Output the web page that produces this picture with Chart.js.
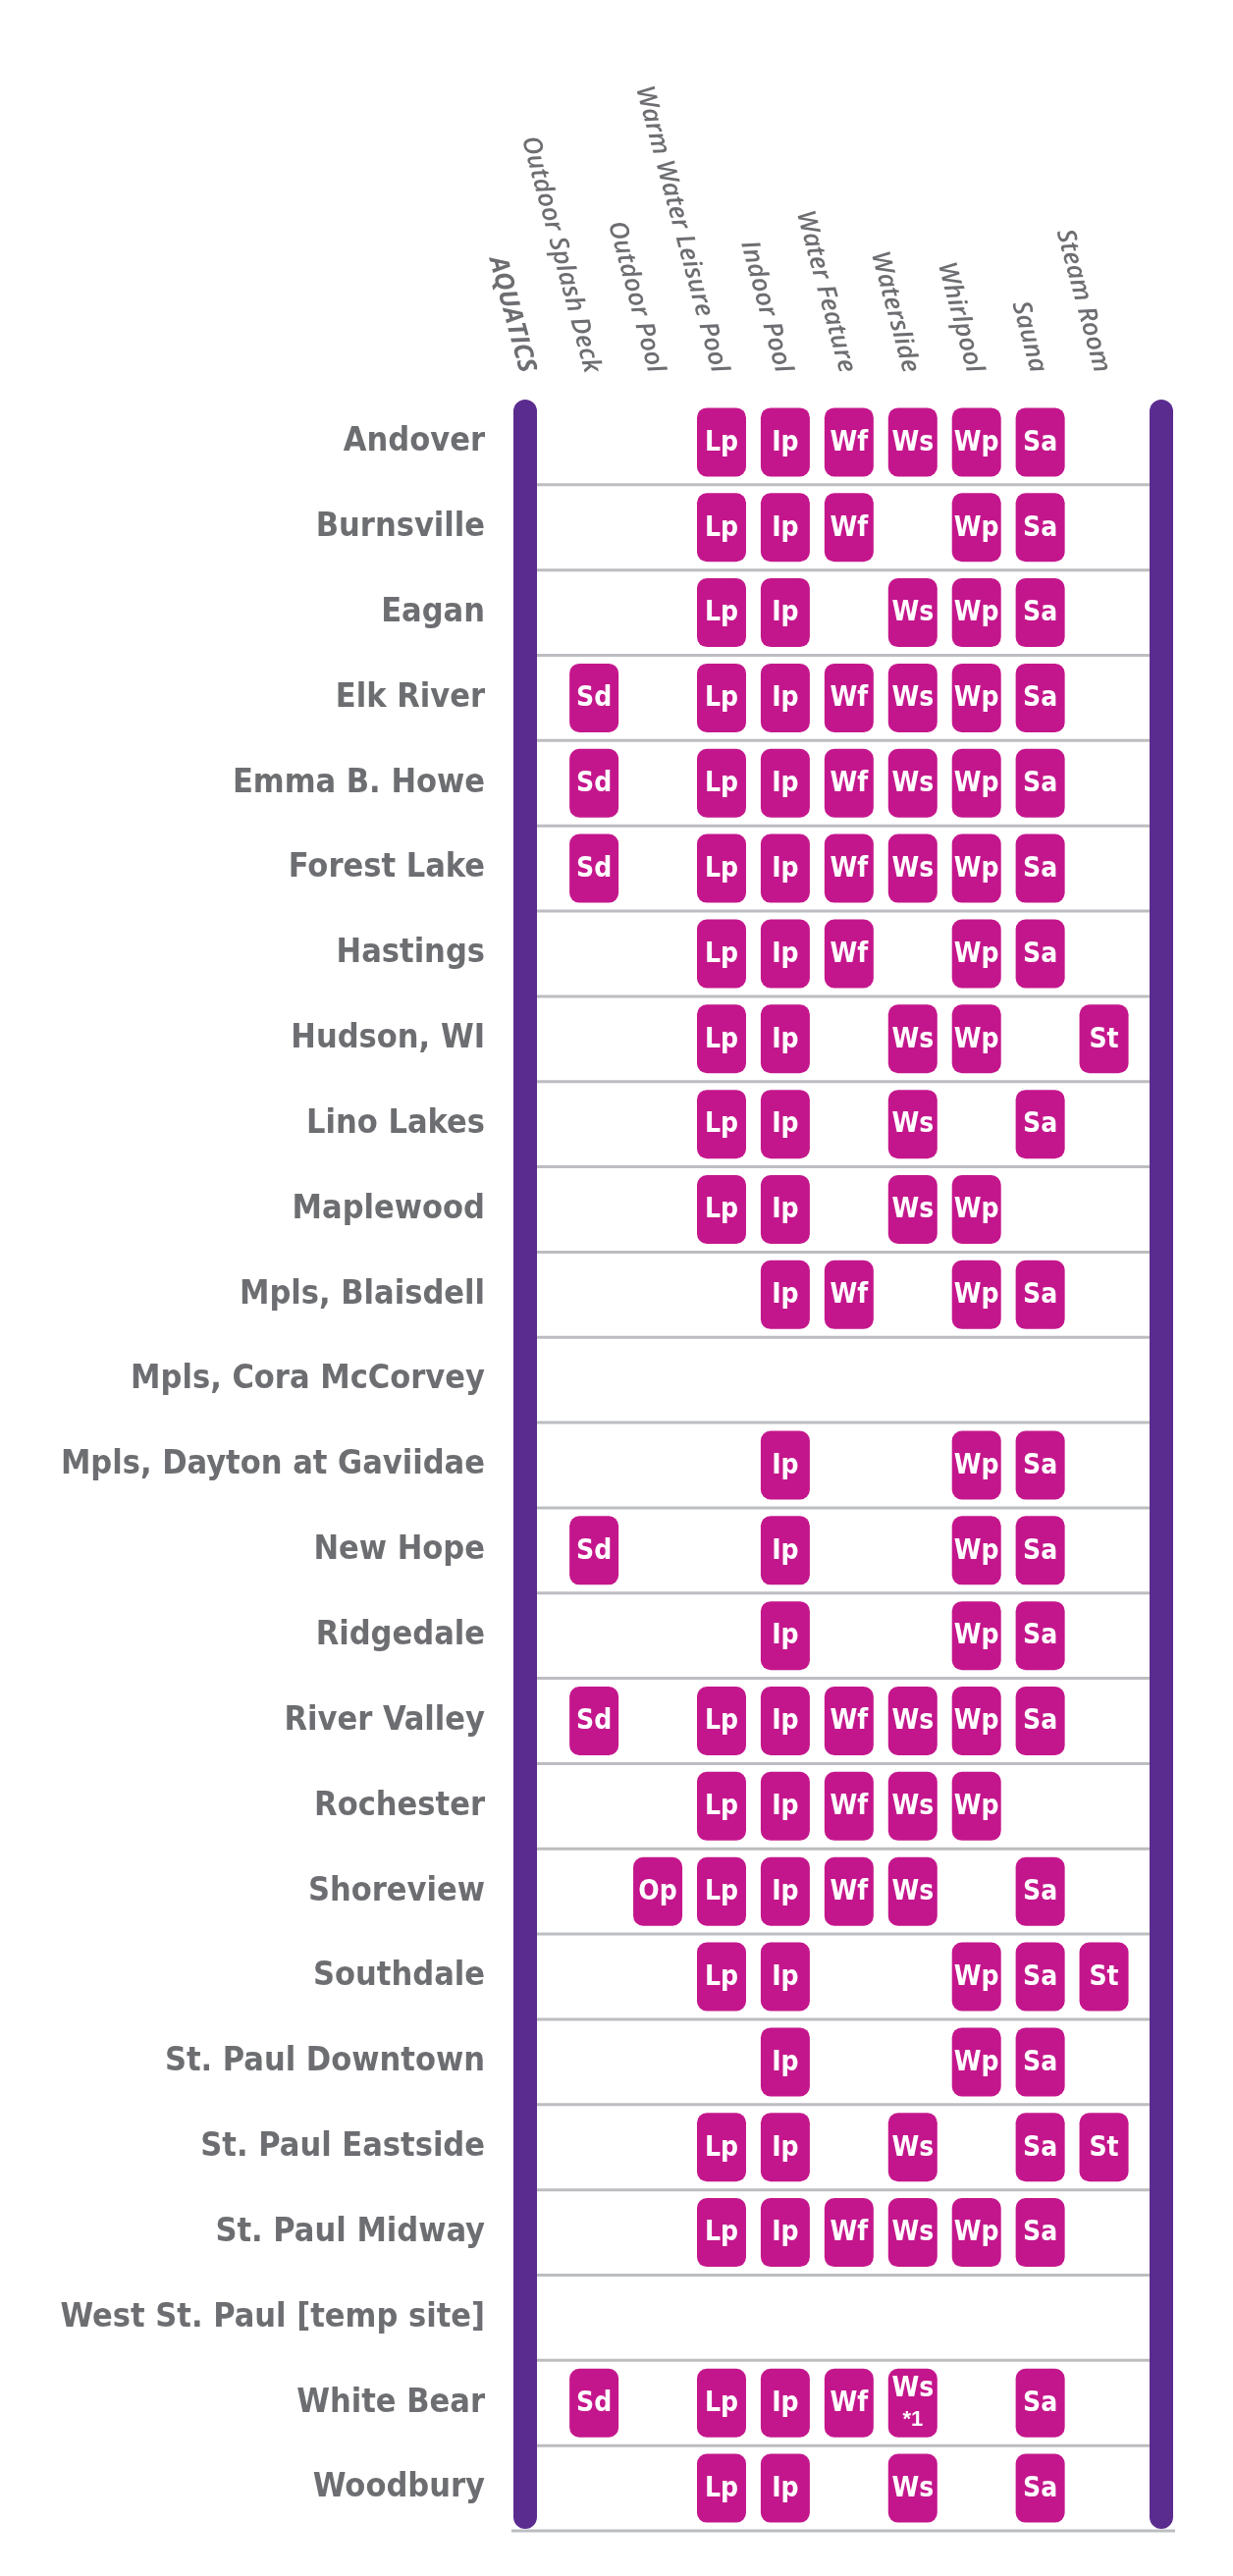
<!DOCTYPE html>
<html><head><meta charset="utf-8">
<script src="https://cdn.jsdelivr.net/npm/chart.js@4"></script>
<style>body{margin:0;background:#fff}</style></head>
<body><canvas id="c" width="1256" height="2624"></canvas>
<script>
const locations = ["Andover","Burnsville","Eagan","Elk River","Emma B. Howe","Forest Lake","Hastings","Hudson, WI","Lino Lakes","Maplewood","Mpls, Blaisdell","Mpls, Cora McCorvey","Mpls, Dayton at Gaviidae","New Hope","Ridgedale","River Valley","Rochester","Shoreview","Southdale","St. Paul Downtown","St. Paul Eastside","St. Paul Midway","West St. Paul [temp site]","White Bear","Woodbury"];
const amenityNames = ["Outdoor Splash Deck","Outdoor Pool","Warm Water Leisure Pool","Indoor Pool","Water Feature","Waterslide","Whirlpool","Sauna","Steam Room"];
const amenityCodes = ["Sd","Op","Lp","Ip","Wf","Ws","Wp","Sa","St"];
const sectionTitle = "AQUATICS";
const features = [
 ["Lp","Ip","Wf","Ws","Wp","Sa"],
 ["Lp","Ip","Wf","Wp","Sa"],
 ["Lp","Ip","Ws","Wp","Sa"],
 ["Sd","Lp","Ip","Wf","Ws","Wp","Sa"],
 ["Sd","Lp","Ip","Wf","Ws","Wp","Sa"],
 ["Sd","Lp","Ip","Wf","Ws","Wp","Sa"],
 ["Lp","Ip","Wf","Wp","Sa"],
 ["Lp","Ip","Ws","Wp","St"],
 ["Lp","Ip","Ws","Sa"],
 ["Lp","Ip","Ws","Wp"],
 ["Ip","Wf","Wp","Sa"],
 [],
 ["Ip","Wp","Sa"],
 ["Sd","Ip","Wp","Sa"],
 ["Ip","Wp","Sa"],
 ["Sd","Lp","Ip","Wf","Ws","Wp","Sa"],
 ["Lp","Ip","Wf","Ws","Wp"],
 ["Op","Lp","Ip","Wf","Ws","Sa"],
 ["Lp","Ip","Wp","Sa","St"],
 ["Ip","Wp","Sa"],
 ["Lp","Ip","Ws","Sa","St"],
 ["Lp","Ip","Wf","Ws","Wp","Sa"],
 [],
 ["Sd","Lp","Ip","Wf","Ws*1","Sa"],
 ["Lp","Ip","Ws","Sa"]
];

const points = [];
features.forEach((list,r)=>list.forEach(code=>{
  const base = code.split("*")[0];
  points.push({x: amenityCodes.indexOf(base), y: locations[r], code});
}));

const PURPLE="#5b2c8f", MAG="#c4168c", GRAY="#6d6e71", LINE="#bcbdc0";
const LABEL_FONT="bold 34px 'Liberation Sans Narrow','DejaVu Sans Condensed',sans-serif";

const deco = {
  id:"deco",
  afterDatasetsDraw(chart){
    const ctx=chart.ctx, ca=chart.chartArea, xs=chart.scales.x, ys=chart.scales.y;
    ctx.save();
    const step = ys.getPixelForValue(1)-ys.getPixelForValue(0);
    // separators
    ctx.strokeStyle=LINE; ctx.lineWidth=3;
    locations.forEach((l,i)=>{
      const y=ys.getPixelForValue(i)+step/2;
      const last = i===locations.length-1;
      ctx.beginPath(); ctx.moveTo(last?ca.left-14:ca.left, y); ctx.lineTo(last?ca.right+14:ca.right, y); ctx.stroke();
    });
    // bars
    ctx.fillStyle=PURPLE;
    [ca.left, ca.right].forEach(x=>{
      ctx.beginPath(); ctx.roundRect(x-12, ca.top, 24, ca.bottom-ca.top-2, 12); ctx.fill();
    });
    // row labels
    ctx.fillStyle=GRAY; ctx.font=LABEL_FONT; ctx.textAlign="right"; ctx.textBaseline="middle";
    locations.forEach((l,i)=>ctx.fillText(l, 494, ys.getPixelForValue(i)));
    // headers
    const hdr=[[sectionTitle, ca.left+2, true]].concat(amenityNames.map((n,i)=>[n, xs.getPixelForValue(i)-2, false]));
    hdr.forEach(([t,x,b])=>{
      ctx.save(); ctx.translate(x, ca.top-28); ctx.rotate(75*Math.PI/180);
      ctx.font=(b?"italic bold ":"italic 600 ")+"26px 'Open Sans','DejaVu Sans',sans-serif";
      ctx.fillStyle=GRAY; ctx.textAlign="right"; ctx.textBaseline="middle";
      ctx.fillText(t,0,0); ctx.restore();
    });
    // badges
    const meta=chart.getDatasetMeta(0);
    meta.data.forEach((el,i)=>{
      const p=points[i];
      ctx.fillStyle=MAG; ctx.beginPath(); ctx.roundRect(el.x-25, el.y-35, 50, 70, 10); ctx.fill();
      ctx.fillStyle="#fff"; ctx.font="bold 28px 'Liberation Sans Narrow','DejaVu Sans Condensed',sans-serif";
      ctx.textAlign="center"; ctx.textBaseline="middle";
      const parts=p.code.split("*");
      if(parts.length>1){ ctx.fillText(parts[0], el.x, el.y-14); ctx.font="bold 22px 'Liberation Sans Narrow',sans-serif"; ctx.fillText("*"+parts[1], el.x, el.y+17); }
      else ctx.fillText(p.code, el.x, el.y+1);
    });
    ctx.restore();
  }
};

new Chart(document.getElementById("c"),{
  type:"scatter",
  data:{labels:locations, datasets:[{data:points, pointRadius:0, pointHoverRadius:0}]},
  options:{
    responsive:false, animation:false, devicePixelRatio:1,
    layout:{padding:{left:535, right:73, top:407, bottom:46}},
    plugins:{legend:{display:false}, tooltip:{enabled:false}},
    scales:{
      x:{type:"linear", min:-1.08, max:8.9, display:false},
      y:{type:"category", labels:locations, offset:true, display:false, grid:{display:false}}
    }
  },
  plugins:[deco]
});
</script></body></html>
